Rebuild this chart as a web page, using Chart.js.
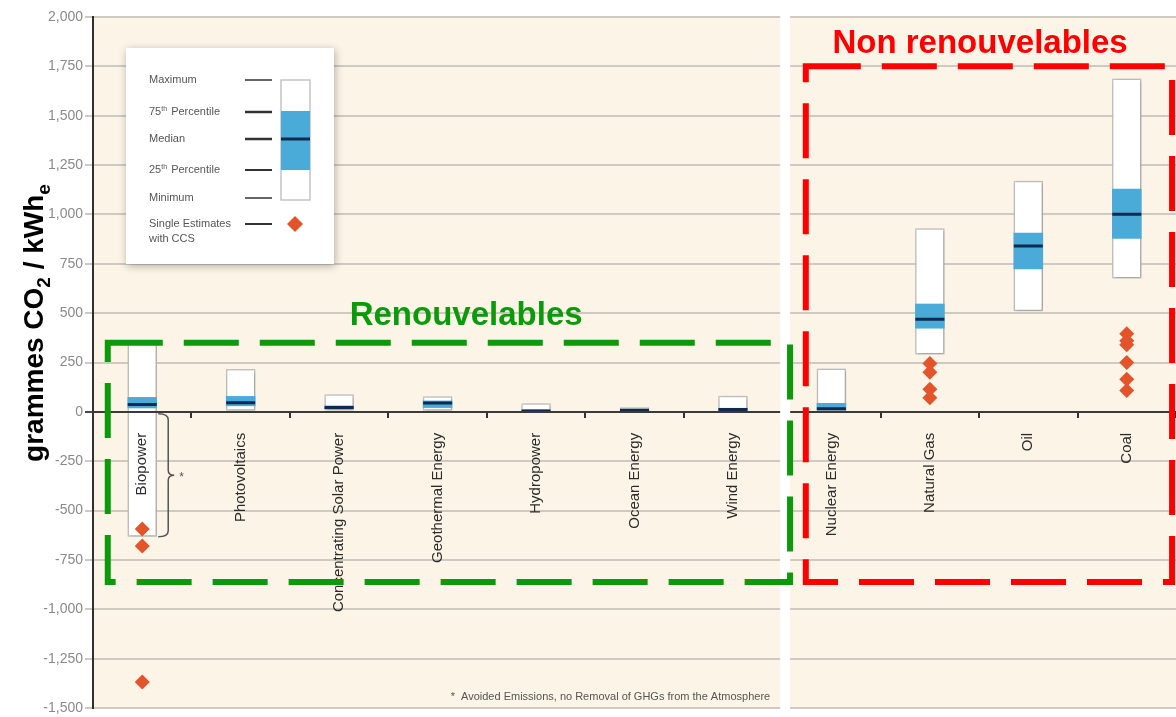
<!DOCTYPE html>
<html>
<head>
<meta charset="utf-8">
<script src="https://cdn.jsdelivr.net/npm/chart.js@4.4.0/dist/chart.umd.min.js"></script>
<style>
  html, body { margin: 0; padding: 0; background: #fff; }
</style>
</head>
<body>
<canvas id="chart" width="1176" height="717"></canvas>
<script>
// ---- data (g CO2eq / kWh, life-cycle estimates) ----
const categories = ["Biopower", "Photovoltaics", "Concentrating Solar Power", "Geothermal Energy",
  "Hydropower", "Ocean Energy", "Wind Energy", "Nuclear Energy", "Natural Gas", "Oil", "Coal"];
const minValues    = [-633,   5,  7,  6,  0,  2,  2,   1, 290,  510,  675];
const q1Values     = [  18,  29, 14, 20,  3,  6,  8,   8, 422,  722,  877];
const medianValues = [  37,  46, 22, 45,  4,  8, 12,  16, 469,  840, 1001];
const q3Values     = [  75,  80, 32, 57,  7,  9, 20,  45, 548,  907, 1130];
const maxValues    = [ 360, 217, 89, 79, 43, 23, 81, 220, 930, 1170, 1689];

// single estimates with CCS
const ccsCategories = ["Biopower", "Biopower", "Biopower",
  "Natural Gas", "Natural Gas", "Natural Gas", "Natural Gas",
  "Coal", "Coal", "Coal", "Coal", "Coal", "Coal"];
const ccsValues = [-593, -680, -1368,
  245, 200, 115, 72,
  395, 360, 340, 250, 165, 108];

const yMin = -1500, yMax = 2000, yStep = 250;

// ---- colours ----
const CREAM = '#fcf4e6';
const BLUE = '#4aabd8';
const NAVY = '#0f2a4f';
const DIAMOND = '#e4542b';
const GREEN = '#0a9a0a';
const RED = '#ff0000';

Chart.defaults.font.family = "'Liberation Sans', Arial, sans-serif";

// ================= PLUGINS =================
const background = {
  id: 'background',
  beforeDraw(chart) {
    const { ctx, chartArea: a } = chart;
    ctx.save();
    ctx.fillStyle = '#fff';
    ctx.fillRect(0, 0, chart.width, chart.height);
    ctx.fillStyle = CREAM;
    ctx.fillRect(a.left, a.top, a.right - a.left, a.bottom - a.top);
    ctx.restore();
  }
};

// white band between renewable and non renewable groups
const separator = {
  id: 'separator',
  afterDraw(chart) {
    const { ctx, chartArea: a, scales } = chart;
    const xb = scales.x.getPixelForValue(6.5);
    ctx.save();
    ctx.fillStyle = '#fff';
    ctx.fillRect(xb - 2, a.top - 1, 10, a.bottom - a.top + 2);
    ctx.restore();
  }
};

const boxShadow = {
  id: 'boxShadow',
  beforeDatasetDraw(chart, args) {
    if (args.index !== 0) return;
    const ctx = chart.ctx;
    ctx.save();
    ctx.shadowColor = 'rgba(0,0,0,0.25)';
    ctx.shadowBlur = 4;
    ctx.shadowOffsetX = 1;
    ctx.shadowOffsetY = 1;
  },
  afterDatasetDraw(chart, args) {
    if (args.index === 0) chart.ctx.restore();
  }
};

function drawParts(ctx, parts, size, subSize, subDrop) {
  let total = 0;
  parts.forEach(p => {
    ctx.font = 'bold ' + (p.sub ? subSize : size) + "px 'Liberation Sans', Arial, sans-serif";
    p.w = ctx.measureText(p.t).width;
    total += p.w;
  });
  let x = -total / 2;
  parts.forEach(p => {
    ctx.font = 'bold ' + (p.sub ? subSize : size) + "px 'Liberation Sans', Arial, sans-serif";
    ctx.fillText(p.t, x, p.sub ? subDrop : 0);
    x += p.w;
  });
}

const yTitle = {
  id: 'yTitle',
  afterDraw(chart) {
    const ctx = chart.ctx;
    ctx.save();
    ctx.translate(43, 323);
    ctx.rotate(-Math.PI / 2);
    ctx.fillStyle = '#000';
    ctx.textBaseline = 'alphabetic';
    ctx.textAlign = 'left';
    drawParts(ctx, [
      { t: 'grammes CO' }, { t: '2', sub: true },
      { t: ' / kWh' }, { t: 'e', sub: true }
    ], 28, 19, 7);
    ctx.restore();
  }
};

// legend box explaining the box plot
const boxLegend = {
  id: 'boxLegend',
  afterDraw(chart) {
    const ctx = chart.ctx;
    const lx = 126, ly = 48, lw = 208, lh = 216;
    ctx.save();
    ctx.shadowColor = 'rgba(0,0,0,0.3)';
    ctx.shadowBlur = 8;
    ctx.shadowOffsetX = 1;
    ctx.shadowOffsetY = 2;
    ctx.fillStyle = '#fff';
    ctx.fillRect(lx, ly, lw, lh);
    ctx.restore();

    ctx.save();
    ctx.fillStyle = '#555';
    ctx.textBaseline = 'middle';
    ctx.font = "11px 'Liberation Sans', Arial, sans-serif";
    const tx = 149;
    const rows = [
      ['Maximum', 80, 1.5], ['75', 112, 2.5], ['Median', 139, 2.5],
      ['25', 170, 2], ['Minimum', 198, 1.5], ['Single Estimates', 224, 2]
    ];
    rows.forEach(([label, y, lwid]) => {
      if (label === '75' || label === '25') {
        ctx.font = "11px 'Liberation Sans', Arial, sans-serif";
        ctx.fillText(label, tx, y);
        let w = ctx.measureText(label).width;
        ctx.font = "7px 'Liberation Sans', Arial, sans-serif";
        ctx.fillText('th', tx + w, y - 3);
        w += ctx.measureText('th').width + 1;
        ctx.font = "11px 'Liberation Sans', Arial, sans-serif";
        ctx.fillText(' Percentile', tx + w, y);
      } else {
        ctx.fillText(label, tx, y);
      }
      ctx.strokeStyle = '#333';
      ctx.lineWidth = lwid;
      ctx.beginPath();
      ctx.moveTo(245, y);
      ctx.lineTo(272, y);
      ctx.stroke();
    });
    ctx.fillText('with CCS', tx, 239);

    // mini box
    ctx.fillStyle = '#fff';
    ctx.fillRect(281, 80, 29, 120);
    ctx.strokeStyle = '#c4c4c4';
    ctx.lineWidth = 1.5;
    ctx.strokeRect(281, 80, 29, 120);
    ctx.fillStyle = BLUE;
    ctx.fillRect(281, 111, 29, 59);
    ctx.strokeStyle = NAVY;
    ctx.lineWidth = 3;
    ctx.beginPath();
    ctx.moveTo(281, 139);
    ctx.lineTo(310, 139);
    ctx.stroke();
    // diamond
    ctx.fillStyle = DIAMOND;
    ctx.beginPath();
    ctx.moveTo(295, 216);
    ctx.lineTo(303, 224);
    ctx.lineTo(295, 232);
    ctx.lineTo(287, 224);
    ctx.closePath();
    ctx.fill();
    ctx.restore();
  }
};

// brace for biopower avoided emissions + footnote
const biopowerNote = {
  id: 'biopowerNote',
  afterDatasetsDraw(chart) {
    const { ctx, scales } = chart;
    const x0 = scales.x.getPixelForValue(0) + 16;
    const yTop = scales.y.getPixelForValue(0) + 2;
    const yBot = scales.y.getPixelForValue(minValues[0]);
    const yMid = (yTop + yBot) / 2;
    const xs = x0 + 10;
    ctx.save();
    ctx.strokeStyle = '#555';
    ctx.lineWidth = 1.5;
    ctx.beginPath();
    ctx.moveTo(x0, yTop);
    ctx.quadraticCurveTo(xs, yTop, xs, yTop + 6);
    ctx.lineTo(xs, yMid - 5);
    ctx.quadraticCurveTo(xs, yMid, xs + 6, yMid);
    ctx.quadraticCurveTo(xs, yMid, xs, yMid + 5);
    ctx.lineTo(xs, yBot - 6);
    ctx.quadraticCurveTo(xs, yBot, x0, yBot);
    ctx.stroke();
    ctx.fillStyle = '#555';
    ctx.font = "12px 'Liberation Sans', Arial, sans-serif";
    ctx.textBaseline = 'middle';
    ctx.fillText('*', xs + 11, yMid + 2);

    ctx.font = "11px 'Liberation Sans', Arial, sans-serif";
    ctx.textAlign = 'right';
    ctx.fillText('*  Avoided Emissions, no Removal of GHGs from the Atmosphere',
      scales.x.getPixelForValue(6.5) - 12, 697);
    ctx.restore();
  }
};

// dashed group frames
const groupFrames = {
  id: 'groupFrames',
  afterDraw(chart) {
    const { ctx, scales } = chart;
    const xs = scales.x, ys = scales.y;
    const frames = [
      { x0: -0.35, x1: 6.58, y0: 350, y1: -862, color: GREEN,
        label: 'Renouvelables', lx: 3.29, ly: 438 },
      { x0: 6.74, x1: 10.46, y0: 1750, y1: -862, color: RED,
        label: 'Non renouvelables', lx: 8.51, ly: 1818 }
    ];
    ctx.save();
    frames.forEach(f => {
      const l = xs.getPixelForValue(f.x0), r = xs.getPixelForValue(f.x1);
      const t = ys.getPixelForValue(f.y0), b = ys.getPixelForValue(f.y1);
      ctx.strokeStyle = f.color;
      ctx.lineWidth = 6;
      ctx.setLineDash([55, 21]);
      ctx.strokeRect(l, t, r - l, b - t);
      ctx.setLineDash([]);
      ctx.fillStyle = f.color;
      ctx.font = "bold 33px 'Liberation Sans', Arial, sans-serif";
      ctx.textAlign = 'center';
      ctx.textBaseline = 'alphabetic';
      ctx.fillText(f.label, xs.getPixelForValue(f.lx), ys.getPixelForValue(f.ly));
    });
    ctx.restore();
  }
};

// ================= CHART =================
const ctx = document.getElementById('chart').getContext('2d');
new Chart(ctx, {
  type: 'bar',
  data: {
    labels: categories,
    datasets: [
      {
        label: 'Range',
        data: categories.map((c, i) => [minValues[i], maxValues[i]]),
        backgroundColor: '#ffffff',
        borderColor: '#c6c6c6',
        borderWidth: 1.5,
        borderSkipped: false,
        grouped: false,
        barPercentage: 0.3,
        categoryPercentage: 1,
        order: 4
      },
      {
        label: 'Interquartile',
        data: categories.map((c, i) => [q1Values[i], q3Values[i]]),
        backgroundColor: BLUE,
        borderWidth: 0,
        grouped: false,
        barPercentage: 0.3,
        categoryPercentage: 1,
        order: 3
      },
      {
        type: 'line',
        label: 'Median',
        data: medianValues,
        showLine: false,
        pointStyle: 'line',
        pointRadius: 14.5,
        borderColor: NAVY,
        borderWidth: 3,
        order: 2
      },
      {
        type: 'line',
        label: 'Single Estimates with CCS',
        data: ccsCategories.map((c, i) => ({ x: c, y: ccsValues[i] })),
        showLine: false,
        pointStyle: 'rectRot',
        pointRadius: 7.5,
        backgroundColor: DIAMOND,
        borderWidth: 0,
        order: 1
      }
    ]
  },
  options: {
    responsive: false,
    devicePixelRatio: 1,
    animation: false,
    layout: { autoPadding: false, padding: { top: 17, bottom: 9, left: 0, right: 0 } },
    plugins: {
      legend: { display: false },
      tooltip: { enabled: false }
    },
    scales: {
      x: {
        type: 'category',
        position: { y: 0 },
        offset: true,
        afterFit: s => { s.paddingLeft = 0; s.paddingRight = 0; },
        grid: {
          display: true,
          drawOnChartArea: false,
          drawTicks: true,
          tickLength: 5,
          color: c => c.index === 7 ? 'rgba(0,0,0,0)' : '#333',
          lineWidth: 2,
          offset: true,
          z: 1
        },
        border: { display: true, color: '#3a3a3a', width: 2, z: 1 },
        ticks: {
          autoSkip: false,
          minRotation: 90,
          maxRotation: 90,
          padding: 16,
          color: '#2b2b2b',
          font: { size: 15 },
          z: 1
        }
      },
      y: {
        min: yMin,
        max: yMax,
        afterFit: s => { s.width = 93; s.paddingTop = 0; s.paddingBottom = 0; },
        ticks: {
          stepSize: yStep,
          padding: 2,
          color: '#8a8a8a',
          font: { size: 14 },
          callback: v => v.toLocaleString('en-US')
        },
        grid: {
          color: c => (c.tick && c.tick.value === 0) ? '#4a4a4a' : '#cfcac1',
          lineWidth: 2,
          tickLength: 8
        },
        border: { display: true, color: '#2f2f2f', width: 2 }
      }
    }
  },
  plugins: [background, separator, boxShadow, biopowerNote, boxLegend, groupFrames, yTitle]
});
</script>
</body>
</html>
